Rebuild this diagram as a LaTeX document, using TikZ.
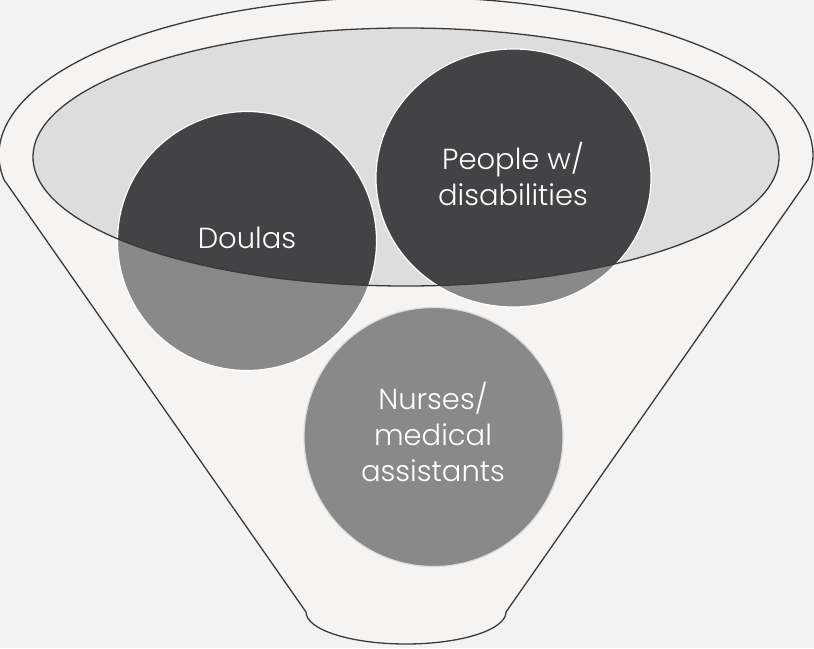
\documentclass[tikz,border=0pt]{standalone}
\usepackage{fontspec}
\setmainfont{Poppins}[UprightFont=* Light]
\definecolor{bgc}{HTML}{F2F2F2}
\definecolor{funnelc}{HTML}{F5F4F2}
\definecolor{innerc}{HTML}{DDDDDD}
\definecolor{darkc}{HTML}{434345}
\definecolor{grayc}{HTML}{898989}
\definecolor{linec}{HTML}{3A3A3A}
\tikzset{
  outline/.style={draw=linec, line width=1.3pt},
  lbl/.style={text=white, align=center, font=\fontsize{29}{36}\selectfont, inner sep=0pt},
  ring/.style={draw=white, line width=1.2pt}
}
\begin{document}
\begin{tikzpicture}[x=1pt,y=-1pt]
\useasboundingbox (0,0) rectangle (814,648);
\fill[bgc] (0,0) rectangle (814,648);
% funnel body
\coordinate (fl) at (4,179.7);
\coordinate (br) at (506,612);
\path[outline, fill=funnelc] (fl) arc[start angle=171, end angle=369, x radius=407, y radius=158]
  -- (br) arc[start angle=0, end angle=180, x radius=100, y radius=32] -- cycle;
% inner ellipse fill
\fill[innerc] (406,157) ellipse[x radius=373, y radius=129];
% circles (gray base)
\fill[grayc] (247,241) circle[radius=129.5];
\fill[grayc] (513.5,178) ellipse[x radius=137.5, y radius=129];
\fill[grayc] (433.5,437) circle[radius=129.5];
% dark parts inside inner ellipse
\begin{scope}
  \clip (406,157) ellipse[x radius=373, y radius=129];
  \fill[darkc] (247,241) circle[radius=129.5];
  \fill[darkc] (513.5,178) ellipse[x radius=137.5, y radius=129];
\end{scope}
% white rings
\draw[ring] (247,241) circle[radius=129.5];
\draw[ring] (513.5,178) ellipse[x radius=137.5, y radius=129];
\draw[ring, draw=white!70!grayc] (433.5,437) circle[radius=129.5];
% inner ellipse outline
\draw[outline] (406,157) ellipse[x radius=373, y radius=129];
% labels
\node[lbl] (doulas) at (247,238) {Doulas};
\node[lbl] (people) at (513,174) {People w/\\disabilities};
\node[lbl] (nurses) at (433,432) {Nurses/\\medical\\assistants};
\end{tikzpicture}
\end{document}
